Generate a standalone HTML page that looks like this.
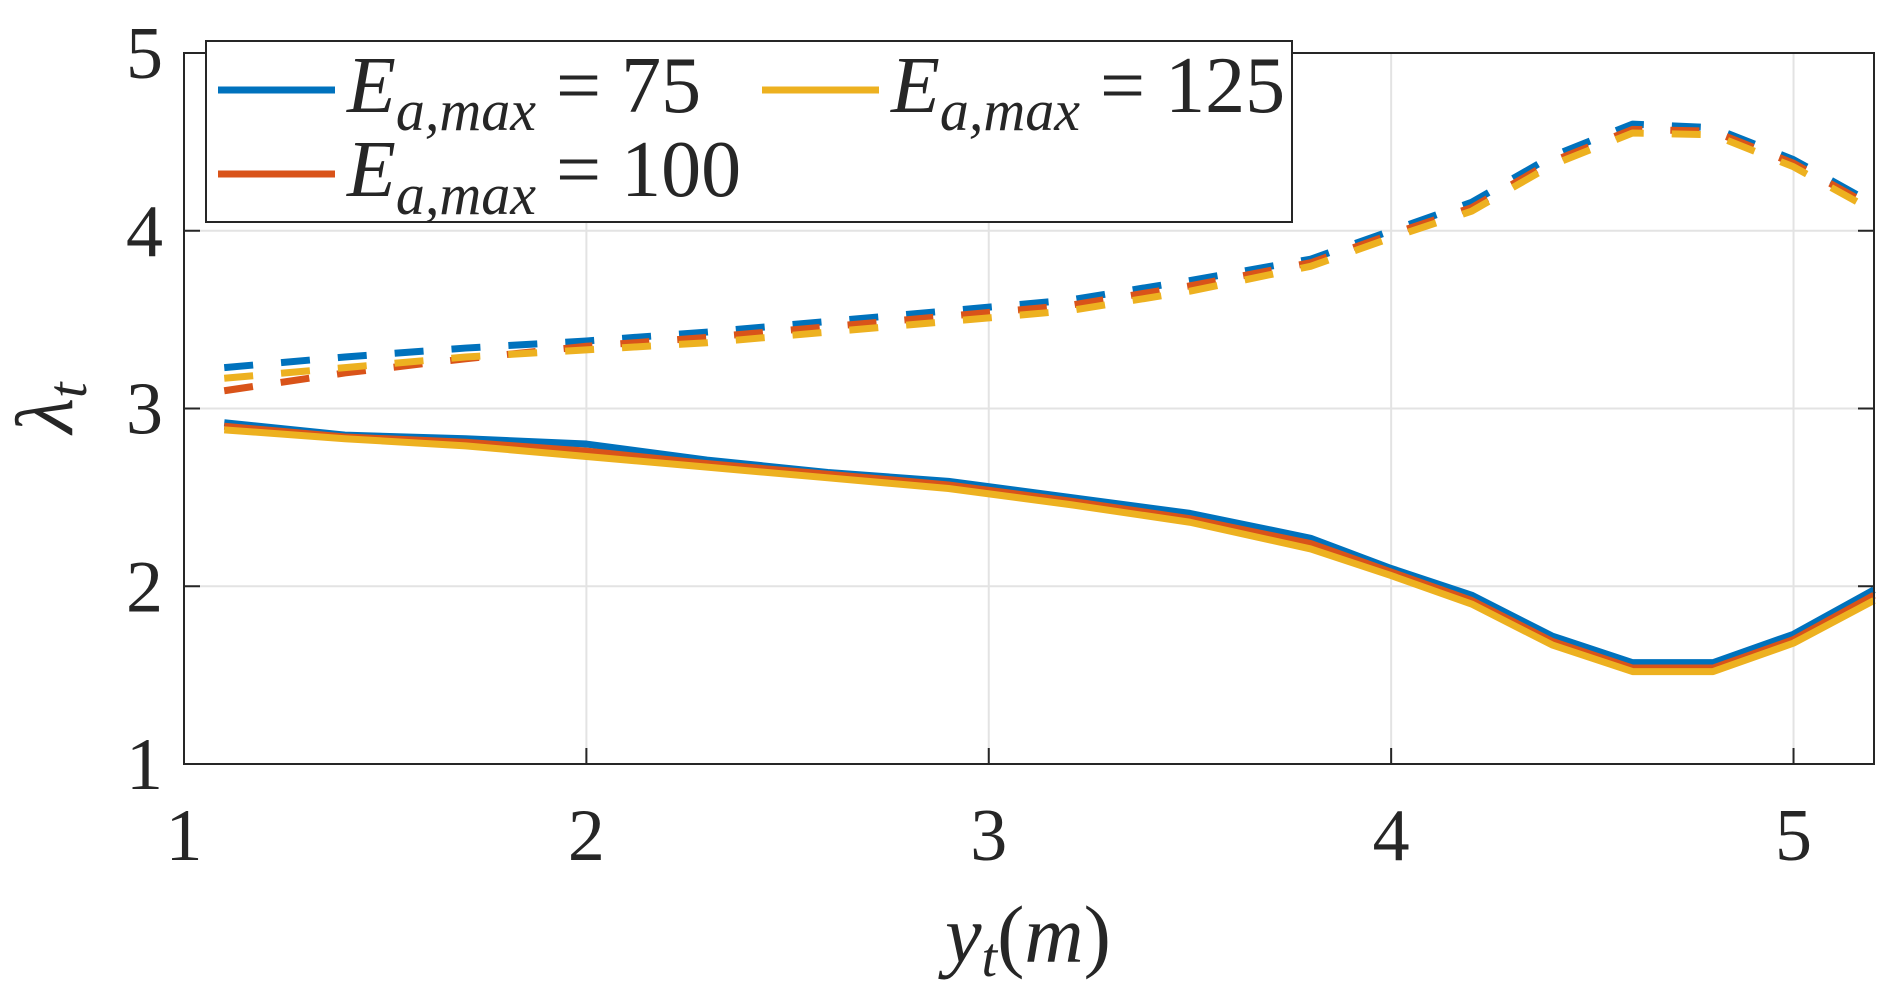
<!DOCTYPE html>
<html><head><meta charset="utf-8"><style>
html,body{margin:0;padding:0;background:#fff;}
svg{display:block;}
text{font-family:"Liberation Serif",serif;fill:#262626;}
</style></head><body>
<svg id="chart" width="1892" height="999" viewBox="0 0 1892 999" xmlns="http://www.w3.org/2000/svg">
<g id="grid"></g>
<g id="series"></g>
<rect x="184" y="53" width="1690" height="711" fill="none" stroke="#262626" stroke-width="2"/>
<g id="ticks"></g>
<text transform="translate(72,408) rotate(-90)" text-anchor="middle" font-size="82" font-style="italic">λ<tspan font-size="56" dy="14">t</tspan></text>
<text x="1028" y="962" text-anchor="middle" font-size="82" font-style="italic">y<tspan font-size="56" dy="14">t</tspan><tspan dy="-14" font-style="normal">(</tspan>m<tspan font-style="normal">)</tspan></text>
<g>
<rect x="206" y="41" width="1086" height="181" fill="#fff" stroke="#262626" stroke-width="2"/>
<g>
<line x1="218" y1="90" x2="335" y2="90" stroke="#0072BD" stroke-width="7"/>
<text x="347" y="112" font-size="80" font-style="italic">E<tspan font-size="58" dy="18">a,max</tspan><tspan dy="-18" font-style="normal"> = 75</tspan></text>
</g>
<g>
<line x1="762" y1="90" x2="879" y2="90" stroke="#EDB120" stroke-width="7"/>
<text x="891" y="112" font-size="80" font-style="italic">E<tspan font-size="58" dy="18">a,max</tspan><tspan dy="-18" font-style="normal"> = 125</tspan></text>
</g>
<g>
<line x1="218" y1="174" x2="335" y2="174" stroke="#D95319" stroke-width="7"/>
<text x="347" y="196" font-size="80" font-style="italic">E<tspan font-size="58" dy="18">a,max</tspan><tspan dy="-18" font-style="normal"> = 100</tspan></text>
</g>
</g>
</svg>
<script>
const xs=[1.1,1.4,1.7,2.0,2.3,2.6,2.9,3.2,3.5,3.8,4.0,4.2,4.4,4.6,4.8,5.0,5.2];
const solid75=[2.92,2.85,2.83,2.80,2.71,2.64,2.59,2.50,2.41,2.27,2.10,1.95,1.72,1.57,1.57,1.73,1.98];
const solid100=[2.90,2.84,2.81,2.76,2.69,2.63,2.57,2.48,2.38,2.24,2.08,1.92,1.69,1.54,1.54,1.70,1.95];
const solid125=[2.88,2.83,2.79,2.73,2.67,2.61,2.55,2.46,2.36,2.21,2.06,1.90,1.67,1.52,1.52,1.68,1.92];
const dash75=[3.23,3.29,3.34,3.38,3.43,3.49,3.55,3.61,3.72,3.84,4.00,4.16,4.42,4.60,4.58,4.40,4.15];
const dash100=[3.10,3.20,3.28,3.35,3.40,3.46,3.52,3.58,3.69,3.82,3.98,4.13,4.39,4.57,4.56,4.38,4.13];
const dash125=[3.17,3.23,3.29,3.33,3.37,3.43,3.49,3.55,3.66,3.80,3.96,4.11,4.37,4.55,4.54,4.36,4.11];
const xTicks=[1,2,3,4,5];
const yTicks=[1,2,3,4,5];
const X0=184,X1=1874,Y0=764,Y1=53,xmin=1,xmax=5.2,ymin=1,ymax=5;
const sx=v=>X0+(v-xmin)/(xmax-xmin)*(X1-X0);
const sy=v=>Y0-(v-ymin)/(ymax-ymin)*(Y0-Y1);
const NS='http://www.w3.org/2000/svg';
const grid=document.getElementById('grid'),ticks=document.getElementById('ticks'),ser=document.getElementById('series');
function mk(t,a,p){const e=document.createElementNS(NS,t);for(const k in a)e.setAttribute(k,a[k]);p.appendChild(e);return e;}
xTicks.forEach(v=>{
 const g=mk('line',{x1:sx(v),x2:sx(v),y1:Y1,y2:Y0,stroke:'#e3e3e3','stroke-width':2},grid);
 
 
 mk('line',{x1:sx(v),x2:sx(v),y1:Y0,y2:Y0-16,stroke:'#262626','stroke-width':2},ticks);
 const t=mk('text',{x:sx(v),y:860,'text-anchor':'middle','font-size':74},ticks);
 t.textContent=v;
 
 
});
yTicks.forEach(v=>{
 const g=mk('line',{x1:X0,x2:X1,y1:sy(v),y2:sy(v),stroke:'#e3e3e3','stroke-width':2},grid);
 
 
 mk('line',{x1:X0,x2:X0+16,y1:sy(v),y2:sy(v),stroke:'#262626','stroke-width':2},ticks);
 mk('line',{x1:X1,x2:X1-16,y1:sy(v),y2:sy(v),stroke:'#262626','stroke-width':2},ticks);
 const t=mk('text',{x:163,y:sy(v)+25,'text-anchor':'end','font-size':74},ticks);
 t.textContent=v;
 
 
});
const series=[[solid75,'#0072BD',0,'solid-75'],[solid100,'#D95319',0,'solid-100'],[solid125,'#EDB120',0,'solid-125'],
 [dash75,'#0072BD',1,'dashed-75'],[dash100,'#D95319',1,'dashed-100'],[dash125,'#EDB120',1,'dashed-125']];
series.forEach(([d,c,dash,n])=>{
 const pts=xs.map((x,i)=>sx(x)+','+sy(d[i])).join(' ');
 const a={points:pts,fill:'none',stroke:c,'stroke-width':7,'stroke-linejoin':'round'};
 if(dash)a['stroke-dasharray']='29 28';
 const p=mk('polyline',a,ser);
 
 
});
</script>
</body></html>
